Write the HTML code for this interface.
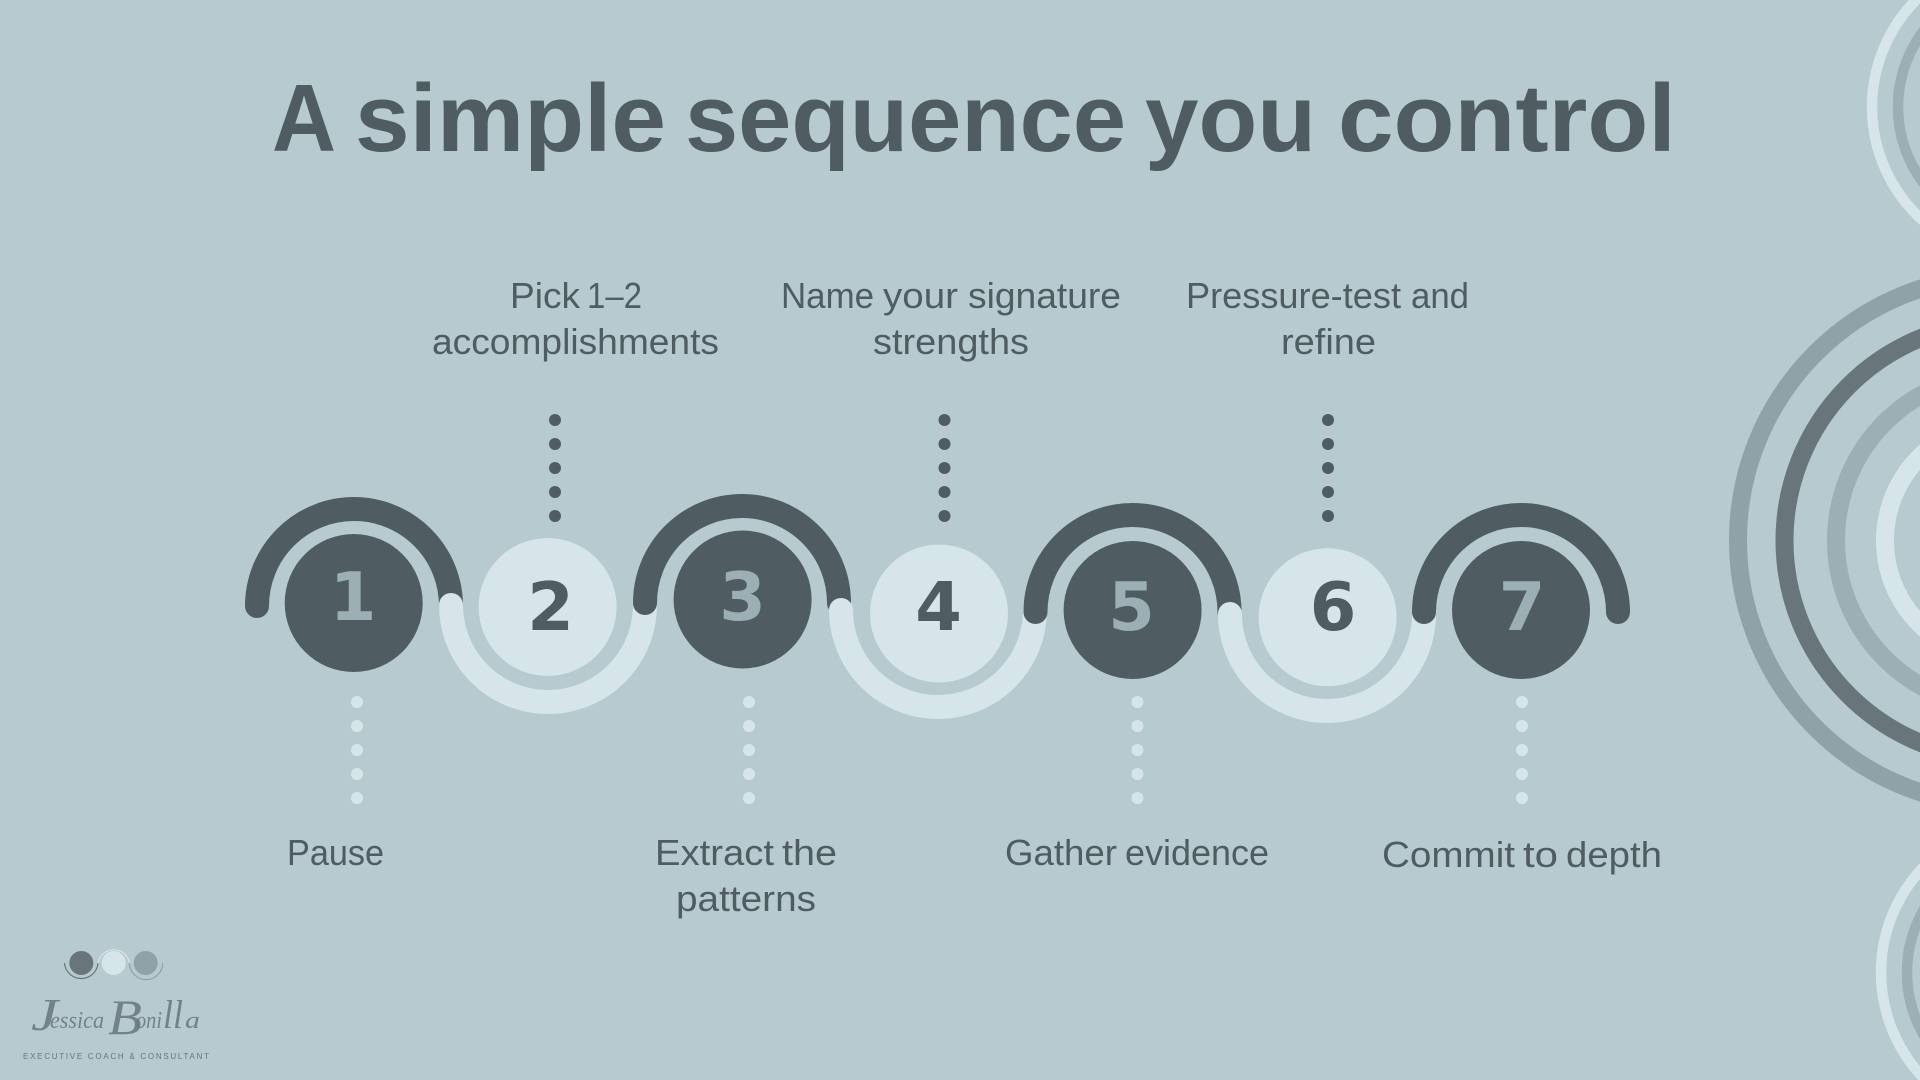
<!DOCTYPE html>
<html><head><meta charset="utf-8"><style>
html,body{margin:0;padding:0;background:#b6cacf;width:1920px;height:1080px;overflow:hidden}
svg{display:block}
.t{font-family:"Liberation Sans",sans-serif;font-size:36px;fill:#4f5d63}
.h{font-family:"Liberation Sans",sans-serif;font-weight:700;font-size:96px;fill:#4f5d63}
.n{font-family:"DejaVu Sans",sans-serif;font-weight:700;font-size:67px;text-anchor:middle}
.s{font-family:"Liberation Serif",serif;font-style:italic;fill:#68767c}
</style></head><body>
<svg width="1920" height="1080" viewBox="0 0 1920 1080" xmlns="http://www.w3.org/2000/svg">
<rect width="1920" height="1080" fill="#b6cacf"/>
<g fill="none">
<circle cx="2003" cy="540.5" r="265" stroke="#8ea2a8" stroke-width="18"/>
<circle cx="2003" cy="540.5" r="218.5" stroke="#68767c" stroke-width="18"/>
<circle cx="2003" cy="540.5" r="167" stroke="#9bafb4" stroke-width="18"/>
<circle cx="2003" cy="540.5" r="118" stroke="#d6e5e9" stroke-width="18"/>
<circle cx="2024" cy="107" r="152" stroke="#d6e5e9" stroke-width="10.5"/>
<circle cx="2024" cy="107" r="126" stroke="#9bafb4" stroke-width="10.5"/>
<circle cx="2033" cy="972.5" r="152" stroke="#d6e5e9" stroke-width="10.5"/>
<circle cx="2033" cy="972.5" r="126" stroke="#9bafb4" stroke-width="10.5"/>
</g>
<text class="h" x="272" y="151" textLength="64" lengthAdjust="spacingAndGlyphs">A</text>
<text class="h" x="355" y="151" textLength="311" lengthAdjust="spacingAndGlyphs">simple</text>
<text class="h" x="685" y="151" textLength="441" lengthAdjust="spacingAndGlyphs">sequence</text>
<text class="h" x="1145" y="151" textLength="171" lengthAdjust="spacingAndGlyphs">you</text>
<text class="h" x="1338" y="151" textLength="338" lengthAdjust="spacingAndGlyphs">control</text>
<g fill="none" stroke-width="24" stroke-linecap="round">
<path d="M257 606A97 97 0 0 1 451 606" stroke="#4f5d63"/>
<path d="M451 605A97 97 0 0 0 645 605" stroke="#d6e5e9"/>
<path d="M645 603A97 97 0 0 1 839 603" stroke="#4f5d63"/>
<path d="M841 610A97 97 0 0 0 1035 610" stroke="#d6e5e9"/>
<path d="M1035.5 612A97 97 0 0 1 1229.5 612" stroke="#4f5d63"/>
<path d="M1230 614A97 97 0 0 0 1424 614" stroke="#d6e5e9"/>
<path d="M1424 612A97 97 0 0 1 1618 612" stroke="#4f5d63"/>
</g>
<circle cx="353.7" cy="603" r="69" fill="#4f5d63"/>
<circle cx="547.6" cy="607" r="69" fill="#d6e5e9"/>
<circle cx="742.6" cy="599.5" r="69" fill="#4f5d63"/>
<circle cx="939" cy="613.5" r="69" fill="#d6e5e9"/>
<circle cx="1132.6" cy="610" r="69" fill="#4f5d63"/>
<circle cx="1327.6" cy="617.3" r="69" fill="#d6e5e9"/>
<circle cx="1521" cy="610" r="69" fill="#4f5d63"/>
<text class="n" x="353" y="620" fill="#9bafb4">1</text>
<text class="n" x="550.5" y="630" fill="#4f5d63">2</text>
<text class="n" x="742.5" y="620" fill="#9bafb4">3</text>
<text class="n" x="938.5" y="630" fill="#4f5d63">4</text>
<text class="n" x="1131.5" y="630" fill="#9bafb4">5</text>
<text class="n" x="1333" y="630" fill="#4f5d63">6</text>
<text class="n" x="1522" y="630" fill="#9bafb4">7</text>
<g fill="#4f5d63">
<circle cx="555" cy="420" r="6"/><circle cx="555" cy="444" r="6"/><circle cx="555" cy="468" r="6"/><circle cx="555" cy="492" r="6"/><circle cx="555" cy="516" r="6"/>
<circle cx="944.5" cy="420" r="6"/><circle cx="944.5" cy="444" r="6"/><circle cx="944.5" cy="468" r="6"/><circle cx="944.5" cy="492" r="6"/><circle cx="944.5" cy="516" r="6"/>
<circle cx="1328" cy="420" r="6"/><circle cx="1328" cy="444" r="6"/><circle cx="1328" cy="468" r="6"/><circle cx="1328" cy="492" r="6"/><circle cx="1328" cy="516" r="6"/>
</g>
<g fill="#d6e5e9">
<circle cx="357" cy="702" r="6"/><circle cx="357" cy="726" r="6"/><circle cx="357" cy="750" r="6"/><circle cx="357" cy="774" r="6"/><circle cx="357" cy="798" r="6"/>
<circle cx="749" cy="702" r="6"/><circle cx="749" cy="726" r="6"/><circle cx="749" cy="750" r="6"/><circle cx="749" cy="774" r="6"/><circle cx="749" cy="798" r="6"/>
<circle cx="1137.5" cy="702" r="6"/><circle cx="1137.5" cy="726" r="6"/><circle cx="1137.5" cy="750" r="6"/><circle cx="1137.5" cy="774" r="6"/><circle cx="1137.5" cy="798" r="6"/>
<circle cx="1522" cy="702" r="6"/><circle cx="1522" cy="726" r="6"/><circle cx="1522" cy="750" r="6"/><circle cx="1522" cy="774" r="6"/><circle cx="1522" cy="798" r="6"/>
</g>
<g lengthAdjust="spacingAndGlyphs">
<text class="t" x="510" y="308" textLength="70" lengthAdjust="spacingAndGlyphs">Pick</text>
<text class="t" x="587" y="308" textLength="55" lengthAdjust="spacingAndGlyphs">1–2</text>
<text class="t" x="432" y="354" textLength="287" lengthAdjust="spacingAndGlyphs">accomplishments</text>
<text class="t" x="781" y="308" textLength="93" lengthAdjust="spacingAndGlyphs">Name</text>
<text class="t" x="883" y="308" textLength="75" lengthAdjust="spacingAndGlyphs">your</text>
<text class="t" x="968" y="308" textLength="153" lengthAdjust="spacingAndGlyphs">signature</text>
<text class="t" x="873" y="354" textLength="156" lengthAdjust="spacingAndGlyphs">strengths</text>
<text class="t" x="1186" y="308" textLength="215" lengthAdjust="spacingAndGlyphs">Pressure-test</text>
<text class="t" x="1411" y="308" textLength="58" lengthAdjust="spacingAndGlyphs">and</text>
<text class="t" x="1281" y="354" textLength="95" lengthAdjust="spacingAndGlyphs">refine</text>
<text class="t" x="287" y="865" textLength="97" lengthAdjust="spacingAndGlyphs">Pause</text>
<text class="t" x="655" y="865" textLength="119" lengthAdjust="spacingAndGlyphs">Extract</text>
<text class="t" x="782" y="865" textLength="55" lengthAdjust="spacingAndGlyphs">the</text>
<text class="t" x="676" y="911" textLength="140" lengthAdjust="spacingAndGlyphs">patterns</text>
<text class="t" x="1005" y="865" textLength="112" lengthAdjust="spacingAndGlyphs">Gather</text>
<text class="t" x="1125" y="865" textLength="144" lengthAdjust="spacingAndGlyphs">evidence</text>
<text class="t" x="1382" y="867" textLength="133" lengthAdjust="spacingAndGlyphs">Commit</text>
<text class="t" x="1523" y="867" textLength="35" lengthAdjust="spacingAndGlyphs">to</text>
<text class="t" x="1566" y="867" textLength="96" lengthAdjust="spacingAndGlyphs">depth</text>
</g>
<circle cx="81.3" cy="963" r="12" fill="#68767c"/>
<circle cx="113.7" cy="963" r="12" fill="#d6e5e9"/>
<circle cx="145.7" cy="963" r="12" fill="#8ea2a8"/>
<g fill="none" stroke-width="1.2">
<path d="M64.5 963A16.8 16.8 0 0 0 98 963" stroke="#68767c"/>
<path d="M98 963A16 16 0 0 1 129.5 963" stroke="#d6e5e9"/>
<path d="M129.5 963A16.6 16.6 0 0 0 162.7 963" stroke="#8ea2a8"/>
</g>
<text class="s" x="31" y="1030" font-size="46" textLength="27" lengthAdjust="spacingAndGlyphs" opacity=".85">J</text>
<text class="s" x="50" y="1028" font-size="24" textLength="54" lengthAdjust="spacingAndGlyphs" opacity=".85">essica</text>
<text class="s" x="108" y="1034" font-size="50" textLength="34" lengthAdjust="spacingAndGlyphs" opacity=".85">B</text>
<text class="s" x="136" y="1028" font-size="24" textLength="26" lengthAdjust="spacingAndGlyphs" opacity=".85">oni</text>
<text class="s" x="163" y="1028" font-size="40" textLength="20" lengthAdjust="spacingAndGlyphs" opacity=".85">ll</text>
<text class="s" x="185" y="1028" font-size="24" textLength="15" lengthAdjust="spacingAndGlyphs" opacity=".85">a</text>
<text x="23" y="1059" font-family="'Liberation Sans',sans-serif" font-size="8" fill="#68767c" textLength="186" lengthAdjust="spacing">EXECUTIVE COACH &amp; CONSULTANT</text>
</svg>
</body></html>
